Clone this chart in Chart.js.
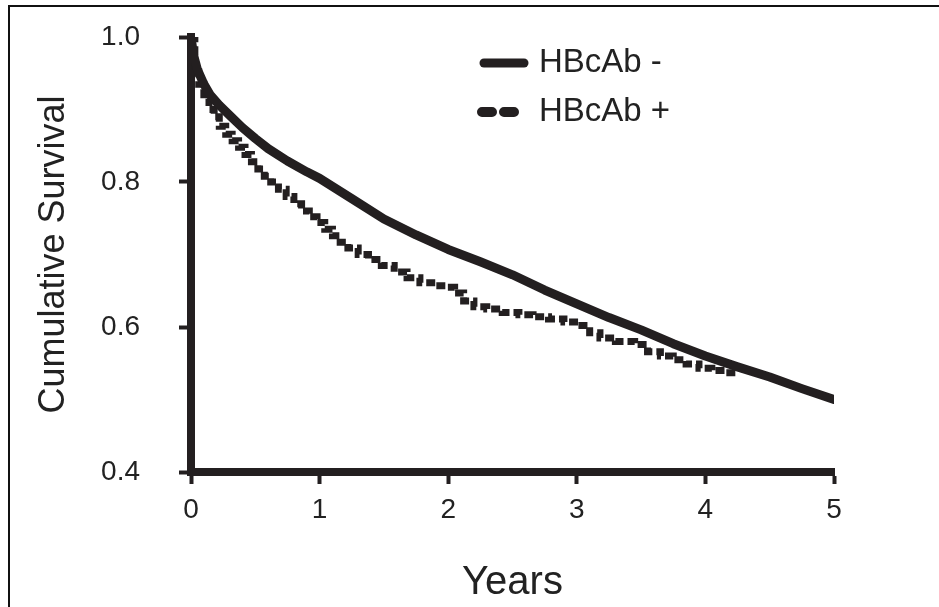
<!DOCTYPE html>
<html>
<head>
<meta charset="utf-8">
<script src="https://cdn.jsdelivr.net/npm/chart.js@4.4.0/dist/chart.umd.min.js"></script>
<style>
  html, body { margin: 0; padding: 0; background: #fff; }
  #frame {
    position: absolute; left: 8px; top: 5px; width: 940px; height: 610px;
    border-left: 2px solid #111; border-top: 2px solid #111;
  }
  #chart { position: absolute; left: 0; top: 0; }
</style>
</head>
<body>
<div id="frame"></div>
<canvas id="chart" width="939" height="607"></canvas>
<script>
// survival curves, years since transplant
const negYears = [0, 0.02, 0.05, 0.1, 0.15, 0.22, 0.3, 0.4, 0.5, 0.6, 0.75, 0.9, 1.0, 1.25, 1.5, 1.75,
  2.0, 2.25, 2.5, 2.75, 3.0, 3.25, 3.5, 3.75, 4.0, 4.25, 4.5, 4.75, 5.0];
const negSurvival = [1.0, 0.975, 0.955, 0.935, 0.92, 0.906, 0.892, 0.875, 0.86, 0.846, 0.829, 0.814, 0.805, 0.777, 0.749, 0.727,
  0.707, 0.69, 0.672, 0.651, 0.632, 0.613, 0.596, 0.577, 0.56, 0.545, 0.531, 0.515, 0.5];

const posYears = [0, 0.03, 0.06, 0.1, 0.14, 0.18, 0.22, 0.27, 0.32, 0.37, 0.42, 0.47, 0.52, 0.57, 0.62, 0.68,
  0.74, 0.8, 0.86, 0.92, 0.98, 1.04, 1.1, 1.16, 1.22, 1.3, 1.38, 1.48, 1.58, 1.68, 1.78, 1.9, 1.98,
  2.05, 2.12, 2.2, 2.3, 2.42, 2.55, 2.66, 2.78, 2.9, 3.04, 3.1, 3.18, 3.3, 3.45, 3.55, 3.65, 3.75,
  3.85, 3.95, 4.05, 4.15, 4.25];
const posSurvival = [1.0, 0.96, 0.935, 0.915, 0.9, 0.89, 0.877, 0.866, 0.857, 0.848, 0.838, 0.828, 0.818, 0.808, 0.8, 0.79,
  0.78, 0.77, 0.76, 0.752, 0.744, 0.735, 0.726, 0.717, 0.709, 0.7, 0.693, 0.685, 0.676, 0.668, 0.661, 0.657, 0.655,
  0.647, 0.636, 0.628, 0.625, 0.62, 0.617, 0.614, 0.611, 0.607, 0.602, 0.592, 0.585, 0.58, 0.576, 0.566, 0.56, 0.555,
  0.549, 0.543, 0.54, 0.537, 0.535];

const yTicks = [0.4, 0.6, 0.8, 1.0];
const seriesNames = ['HBcAb -', 'HBcAb +'];

const INK = '#231f20';
const FONT = '"Liberation Sans", Arial, Helvetica, sans-serif';

const toPoints = (xs, ys) => xs.map((x, i) => ({ x: x, y: ys[i] }));

// legend drawn inside the plot, top right
const insideLegend = {
  id: 'insideLegend',
  afterDraw(chart) {
    const ctx = chart.ctx;
    const rows = [63, 112];
    ctx.save();
    chart.data.datasets.forEach((ds, i) => {
      const y = rows[i];
      ctx.strokeStyle = INK;
      ctx.lineCap = 'round';
      if (ds.borderDash && ds.borderDash.length) {
        ctx.lineWidth = 10;
        ctx.setLineDash([10, 12]);
        ctx.beginPath();
        ctx.moveTo(482, y);
        ctx.lineTo(515, y);
        ctx.stroke();
      } else {
        ctx.lineWidth = 9;
        ctx.setLineDash([]);
        ctx.beginPath();
        ctx.moveTo(484, y);
        ctx.lineTo(524, y);
        ctx.stroke();
      }
      ctx.setLineDash([]);
      ctx.fillStyle = '#222';
      ctx.font = '33px ' + FONT;
      ctx.textBaseline = 'middle';
      ctx.textAlign = 'left';
      ctx.fillText(ds.label, 539, y);
    });
    ctx.restore();
  }
};

new Chart(document.getElementById('chart'), {
  type: 'line',
  data: {
    datasets: [{
      label: seriesNames[0],
      data: toPoints(negYears, negSurvival),
      borderColor: INK,
      borderWidth: 9,
      borderCapStyle: 'round',
      borderJoinStyle: 'round',
      pointRadius: 0,
      fill: false
    }, {
      label: seriesNames[1],
      data: toPoints(posYears, posSurvival),
      borderColor: INK,
      borderWidth: 7,
      borderDash: [9, 4],
      stepped: true,
      pointRadius: 0,
      fill: false
    }]
  },
  options: {
    responsive: false,
    animation: false,
    events: [],
    layout: { padding: { top: 37, right: 105, left: 0, bottom: 0 } },
    plugins: { legend: { display: false }, tooltip: { enabled: false } },
    scales: {
      x: {
        type: 'linear',
        min: 0,
        max: 5,
        ticks: { stepSize: 1, color: '#222', font: { family: FONT, size: 28 }, padding: 9 },
        grid: { drawOnChartArea: false, drawTicks: true, tickLength: 12, tickWidth: 4, tickColor: INK },
        border: { display: true, width: 8, color: INK },
        title: { display: true, text: 'Years', color: '#222', font: { family: FONT, size: 40 }, padding: { top: 9, bottom: 0 } },
        afterFit(scale) { scale.height = 135; }
      },
      y: {
        type: 'linear',
        min: 0.4,
        max: 1.0,
        afterBuildTicks(scale) { scale.ticks = yTicks.map(v => ({ value: v })); },
        ticks: { color: '#222', font: { family: FONT, size: 28 }, padding: 39, callback: v => v.toFixed(1) },
        grid: { drawOnChartArea: false, drawTicks: true, tickLength: 12, tickWidth: 4, tickColor: INK },
        border: { display: true, width: 8, color: INK },
        title: { display: true, text: 'Cumulative Survival', color: '#222', font: { family: FONT, size: 36 }, padding: { top: 32, bottom: 0 } },
        afterFit(scale) {
          scale.width = 191;
          // tick padding is horizontal here, keep it out of the vertical margins
          scale.paddingTop = 0;
          scale.paddingBottom = 0;
        }
      }
    }
  },
  plugins: [insideLegend]
});
</script>
</body>
</html>
